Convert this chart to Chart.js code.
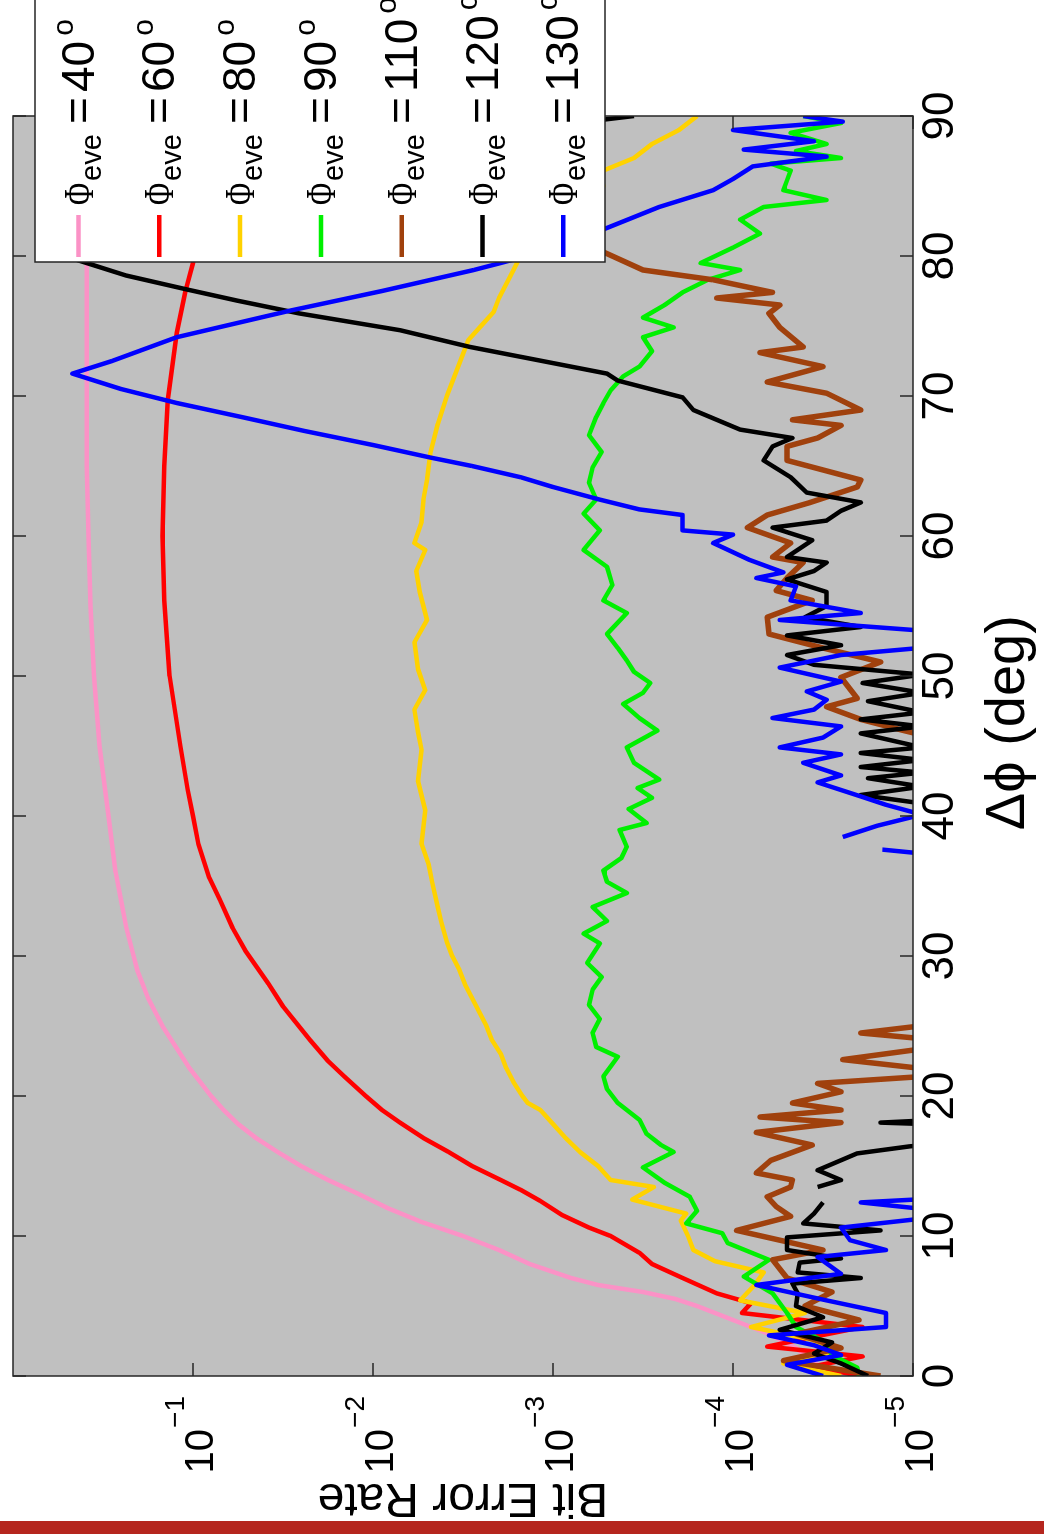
<!DOCTYPE html>
<html lang="en">
<head>
<meta charset="UTF-8">
<title>Bit Error Rate vs phase offset</title>
<script src="https://cdn.jsdelivr.net/npm/chart.js"></script>
<style>
  html, body { margin: 0; padding: 0; background: #fff; }
  body { width: 1044px; height: 1534px; overflow: hidden; position: relative; }
  /* the figure is shown turned a quarter turn counter-clockwise */
  #turn { position: absolute; left: 0; top: 0; width: 1534px; height: 1044px;
          transform-origin: 0 0; transform: translate(0, 1534px) rotate(-90deg); }
  #bar { position: absolute; left: 0; top: 1521px; width: 1044px; height: 13px; background: #b5261e; }
</style>
</head>
<body>
<div id="turn"><canvas id="berChart" width="1534" height="1044"></canvas></div>
<div id="bar"></div>
<script>
// axis ticks
const phiTicks = [0, 10, 20, 30, 40, 50, 60, 70, 80, 90];
const berTickExp = [-1, -2, -3, -4, -5];
const legendAngles = [40, 60, 80, 90, 110, 120, 130];

// delta phi (deg) and log10(BER); null = BER of zero (gap)
const phi40 = [0,1,2,3,4,5,5.5,6,6.5,7,8,9,10,11,12,13,14,15,16,17,18,19,20,21,22,23,24,25,26,27,28,29,30,32,34,36,38,40,45,50,55,60,65,70,75,80,85,90];
const ber40 = [-4.55,-4.45,-4.35,-4.2,-4.0,-3.8,-3.68,-3.5,-3.25,-3.1,-2.87,-2.7,-2.5,-2.27,-2.08,-1.92,-1.75,-1.6,-1.47,-1.35,-1.25,-1.17,-1.1,-1.04,-0.98,-0.93,-0.88,-0.83,-0.79,-0.75,-0.72,-0.69,-0.67,-0.63,-0.6,-0.57,-0.55,-0.53,-0.48,-0.45,-0.43,-0.42,-0.41,-0.41,-0.41,-0.41,-0.41,-0.41];

const phi60 = [0,0.7,1.4,2.1,2.8,3.5,4.5,5.2,5.9,7,8,8.8,10,10.6,11.5,12.5,13.3,14,15,16,17,18.1,19,20,21.4,22.5,24,26.4,28,30.4,32,34,35.6,38,40,41.9,45,50,55.4,60,65,69.7,74.5,77.6,79.5,85,90];
const ber60 = [-4.7,-4.45,-4.72,-4.19,-4.45,-4.72,-4.05,-4.1,-3.91,-3.72,-3.55,-3.48,-3.32,-3.2,-3.05,-2.93,-2.82,-2.71,-2.55,-2.42,-2.28,-2.15,-2.05,-1.96,-1.84,-1.75,-1.65,-1.5,-1.42,-1.29,-1.22,-1.15,-1.09,-1.03,-1.0,-0.97,-0.93,-0.87,-0.84,-0.83,-0.84,-0.86,-0.91,-0.96,-1.0,-1.06,-1.12];

const phi80 = [0,0.9,1.7,2.6,3.5,4.5,5.4,6.5,7.4,8.2,9,10,11.1,11.6,12.6,13.5,14,15,16,17,18,19,19.5,20,21,22,23,24,25,26,27,28,29,30,31,32.4,33.5,35.2,36.5,38,40.4,42.5,44.7,46,47.6,49,50.5,52.4,54,56,57.5,59,59.5,61,62.6,64,66,68,70,72,74,75,76,77,78,79,80,81,82,83,84,85,86,87,88,89,90];
const ber80 = [-4.6,-4.28,-4.55,-4.44,-4.1,-4.4,-4.04,-4.12,-4.17,-3.9,-3.78,-3.75,-3.71,-3.74,-3.44,-3.56,-3.32,-3.25,-3.15,-3.07,-3.0,-2.93,-2.86,-2.83,-2.78,-2.74,-2.71,-2.66,-2.63,-2.59,-2.55,-2.51,-2.48,-2.44,-2.41,-2.38,-2.36,-2.33,-2.31,-2.27,-2.29,-2.25,-2.27,-2.25,-2.23,-2.29,-2.25,-2.23,-2.3,-2.26,-2.24,-2.29,-2.23,-2.27,-2.28,-2.3,-2.32,-2.36,-2.41,-2.47,-2.53,-2.6,-2.67,-2.7,-2.74,-2.78,-2.82,-2.9,-2.97,-3.05,-3.15,-3.28,-3.26,-3.45,-3.55,-3.7,-3.8];

const phi90 = [0,0.6,1.5,2.5,3.5,4.5,5.9,7.1,8.3,9.5,10.2,10.9,11.8,12.8,13.8,14.9,16,16.5,17.3,18.3,19.5,20.5,21.4,22.8,23.5,24.5,25.5,26.5,27.6,28.5,29.5,30.9,31.6,32.5,33.5,34.5,35.3,36.1,37,37.8,39,39.5,40.5,41.3,42,42.6,43.8,44.9,46.1,47,48,48.8,49.5,50.3,51.1,52,53,54.5,55.4,56.5,57.8,59,60.4,61.6,62.6,63.8,64.9,66,67.2,68.5,69.5,70.4,71.4,72.1,73.2,74.2,74.9,75.6,76.5,77.4,78.3,79,79.5,80.6,81.6,82.6,83.5,84,84.7,85.4,86.1,86.6,87,87.5,88,88.8,89.5,90];
const ber90 = [-4.7,-4.69,-4.55,-4.5,-4.35,-4.3,-4.22,-4.06,-4.2,-3.97,-3.94,-3.74,-3.8,-3.76,-3.62,-3.5,-3.67,-3.6,-3.52,-3.48,-3.36,-3.3,-3.28,-3.36,-3.24,-3.22,-3.26,-3.2,-3.22,-3.27,-3.19,-3.26,-3.17,-3.3,-3.22,-3.41,-3.3,-3.28,-3.38,-3.41,-3.37,-3.52,-3.42,-3.55,-3.47,-3.59,-3.45,-3.41,-3.58,-3.48,-3.39,-3.5,-3.54,-3.45,-3.41,-3.36,-3.3,-3.41,-3.28,-3.33,-3.3,-3.17,-3.26,-3.17,-3.24,-3.2,-3.22,-3.27,-3.2,-3.24,-3.28,-3.32,-3.39,-3.48,-3.55,-3.5,-3.67,-3.5,-3.62,-3.72,-3.86,-4.04,-3.82,-4.0,-4.15,-4.04,-4.17,-4.52,-4.28,-4.3,-4.32,-4.21,-4.6,-4.35,-4.52,-4.32,-4.6,-4.39];

const phi110 = [0,1.1,2,3,4,5,6,7,8.3,9,9.7,10.4,11.4,12.1,12.8,13.5,14,14.5,15.4,16.5,17.4,18.1,18.5,19,19.5,20.3,20.9,21.6,22.6,23.8,24.5,25.4,26,45,46.1,46.9,47.8,48.4,49.9,51,52,53,54.2,55.4,56.1,57,58.1,58.5,59.5,60.6,61.5,62.4,63.5,64,65.4,66.4,67,67.9,68.3,69,70.2,71,72.1,73.1,73.5,74.9,75.9,76.5,77,77.4,78.3,79,80.4,82,84,86,88,90];
const ber110 = [-4.82,-4.28,-4.6,-4.35,-4.7,-4.4,-4.55,-4.3,-4.22,-4.5,-4.26,-4.02,-4.32,-4.24,-4.19,-4.32,-4.33,-4.13,-4.21,-4.44,-4.13,-4.6,-4.15,-4.6,-4.33,-4.6,-4.47,-5.3,-4.61,-5.3,-4.71,-5.3,null,-5.3,-4.95,-4.71,-4.52,-4.69,-4.6,-4.82,-4.5,-4.2,-4.19,-4.44,-4.24,-4.3,-4.39,-4.22,-4.32,-4.08,-4.19,-4.43,-4.69,-4.71,-4.3,-4.3,-4.47,-4.6,-4.33,-4.71,-4.52,-4.19,-4.5,-4.15,-4.39,-4.26,-4.2,-4.26,-3.91,-4.22,-3.89,-3.5,-3.26,-3.1,-2.95,-2.8,-2.65,-2.5];

const phi120 = [0,0.9,1.6,2.4,3.3,4.2,5,5.9,6.6,7,7.4,8.1,8.4,9,9.9,10.4,10.9,11.6,12.4,13,13.5,14,14.7,15.9,16.4,16.8,17.5,17.9,18.1,18.4,19,40.3,40.9,41.5,42.1,42.7,43.1,43.5,44,44.5,44.9,45.9,46.4,46.9,47.4,48.2,48.8,49.5,50.1,50.8,51.5,52.2,52.9,53.5,54.2,55,56,56.9,57.5,58.1,58.5,59.7,60.6,61.1,61.8,62.4,63.1,64.2,65.4,66.4,67,67.6,69,69.9,71.1,71.6,72.8,73.5,74.7,75.9,76.8,77.6,78.6,79.7,81,82.5,84,86,88,89,90];
const ber120 = [-4.75,-4.6,-4.45,-4.55,-4.26,-4.5,-4.35,-4.36,-4.33,-4.71,-4.36,-4.37,-4.6,-4.3,-4.3,-4.82,-4.39,-4.45,-4.5,null,-4.47,-4.6,-4.47,-4.69,-4.98,-5.3,null,-5.3,-4.82,-5.3,null,-5.3,-5.05,-4.71,-5.05,-4.75,-5.05,-4.71,-5.05,-4.71,-5.05,-4.71,-5.05,-4.71,-5.05,-4.75,-5.05,-4.72,-5.05,-4.45,-4.3,-4.6,-4.3,-4.71,-4.4,-4.52,-4.52,-4.3,-4.45,-4.52,-4.3,-4.44,-4.22,-4.52,-4.6,-4.71,-4.41,-4.32,-4.17,-4.22,-4.33,-4.04,-3.78,-3.72,-3.36,-3.3,-2.82,-2.54,-2.15,-1.59,-1.25,-0.97,-0.63,-0.36,-0.2,-0.25,-0.6,-1.3,-2.2,-2.8,-3.45];

const phi130 = [0,0.8,1.5,2.2,2.9,3.5,4.5,5.4,6.5,7.3,8.5,9,9.7,10.6,11.6,12.4,12.8,13.2,37,37.6,38,38.5,39.3,40.1,40.8,41.4,42.4,42.9,43.8,44.4,44.9,45.6,46.4,47,47.6,48.3,48.9,49.6,50.6,51.5,52.3,53,54,54.5,55.4,56.4,57,57.4,58.3,59.5,60.1,60.4,61.5,61.9,62.6,63.5,64.2,65,65.6,66.5,67.5,68.5,69.5,70.5,71.6,72.5,74.2,76.1,77.5,79,79.5,80.5,81.9,83.5,84.7,85.5,86.4,87.1,87.6,88.2,89,89.6,90];
const ber130 = [-4.5,-4.3,-4.6,-4.45,-4.2,-4.85,-4.85,-4.52,-4.13,-4.6,-4.47,-4.85,-4.65,-4.6,-5.3,-4.71,-5.3,null,-5.3,-4.83,null,-4.61,-4.8,-5.05,-4.85,-4.71,-4.47,-4.6,-4.39,-4.6,-4.26,-4.5,-4.6,-4.22,-4.45,-4.52,-4.41,-4.6,-4.26,-4.6,-5.3,-5.3,-4.26,-4.71,-4.32,-4.35,-4.13,-4.28,-4.09,-3.89,-4.0,-3.72,-3.72,-3.48,-3.26,-3.0,-2.82,-2.55,-2.32,-2.0,-1.62,-1.27,-0.91,-0.6,-0.33,-0.55,-0.91,-1.54,-2.05,-2.56,-2.71,-3.0,-3.28,-3.59,-3.89,-4.0,-4.11,-4.52,-4.06,-4.45,-4.0,-4.61,-4.39];

const seriesPhi = [phi40, phi60, phi80, phi90, phi110, phi120, phi130];
const seriesBer = [ber40, ber60, ber80, ber90, ber110, ber120, ber130];
const seriesColors = ['#fb92c6', '#ff0000', '#ffd200', '#00f000', '#a0410d', '#000000', '#0000ff'];

const SANS = '"Liberation Sans", Arial, sans-serif';
const SERIF = '"Liberation Serif", "Times New Roman", serif';

function toPoints(phi, ber) {
  return phi.map((p, i) => ({ x: p, y: ber[i] === null ? null : Math.pow(10, ber[i]) }));
}

const datasets = legendAngles.map((a, i) => ({
  label: 'Φeve = ' + a + '°',
  data: toPoints(seriesPhi[i], seriesBer[i]),
  borderColor: seriesColors[i],
  borderWidth: i === 4 ? 5.5 : 4.5,
  pointRadius: 0,
  tension: 0,
  spanGaps: false,
  clip: 0,
  borderJoinStyle: 'round',
  order: 7 - i
}));

const matlabAxes = {
  id: 'matlabAxes',
  beforeDatasetsDraw(chart) {
    const { ctx, chartArea: a } = chart;
    ctx.save();
    ctx.fillStyle = '#c0c0c0';
    ctx.fillRect(a.left, a.top, a.right - a.left, a.bottom - a.top);
    ctx.restore();
  },
  afterDatasetsDraw(chart) {
    const { ctx, chartArea: a, scales: { x, y } } = chart;
    ctx.save();
    ctx.strokeStyle = '#262626';
    ctx.lineWidth = 1.5;
    ctx.strokeRect(a.left, a.top, a.right - a.left, a.bottom - a.top);
    ctx.beginPath();
    phiTicks.forEach(t => {
      const px = x.getPixelForValue(t);
      ctx.moveTo(px, a.bottom); ctx.lineTo(px, a.bottom - 13);
      ctx.moveTo(px, a.top); ctx.lineTo(px, a.top + 13);
    });
    berTickExp.forEach(e => {
      const py = y.getPixelForValue(Math.pow(10, e));
      ctx.moveTo(a.left, py); ctx.lineTo(a.left + 13, py);
      ctx.moveTo(a.right, py); ctx.lineTo(a.right - 13, py);
    });
    ctx.stroke();

    // log tick labels as 10 with a raised exponent
    ctx.fillStyle = '#000';
    ctx.textBaseline = 'alphabetic';
    ctx.textAlign = 'left';
    berTickExp.forEach(e => {
      const py = y.getPixelForValue(Math.pow(10, e));
      const sup = '\u2212' + Math.abs(e);
      ctx.font = '40px ' + SANS;
      const wBase = ctx.measureText('10').width;
      ctx.font = '28px ' + SANS;
      const wSup = ctx.measureText(sup).width;
      const x0 = a.left - 21 - wBase - wSup;
      ctx.font = '40px ' + SANS;
      ctx.fillText('10', x0, py + 20);
      ctx.font = '28px ' + SANS;
      ctx.fillText(sup, x0 + wBase + 1, py - 9);
    });
    ctx.restore();
  },
  afterDraw(chart) {
    const ctx = chart.ctx;
    ctx.save();
    ctx.fillStyle = '#fff';
    ctx.fillRect(1272, 35, 300, 570);
    ctx.strokeStyle = '#262626';
    ctx.lineWidth = 1.5;
    ctx.strokeRect(1272, 35, 300, 570);
    ctx.textBaseline = 'alphabetic';
    ctx.textAlign = 'left';
    legendAngles.forEach((ang, i) => {
      const vc = 78.5 + 80.8 * i;
      ctx.strokeStyle = seriesColors[i];
      ctx.lineWidth = 4.5;
      ctx.beginPath();
      ctx.moveTo(1277, vc); ctx.lineTo(1319, vc);
      ctx.stroke();
      ctx.fillStyle = '#000';
      // narrow serif capital phi
      ctx.save();
      ctx.translate(1329, vc + 14);
      ctx.scale(0.72, 1);
      ctx.font = '42px ' + SERIF;
      ctx.fillText('Φ', 0, 0);
      ctx.restore();
      ctx.font = '29px ' + SANS;
      ctx.fillText('eve', 1353, vc + 22);
      ctx.font = '46px ' + SANS;
      ctx.fillText('=', 1410, vc + 15);
      const num = String(ang);
      ctx.fillText(num, 1442, vc + 15);
      const w = ctx.measureText(num).width;
      ctx.font = '30px ' + SANS;
      ctx.fillText('o', 1442 + w + 5, vc - 6);
    });
    ctx.restore();
  }
};

new Chart(document.getElementById('berChart'), {
  type: 'line',
  data: { datasets },
  options: {
    responsive: false,
    animation: false,
    devicePixelRatio: 1,
    layout: { padding: { top: 13, right: 116, bottom: 0, left: 0 } },
    plugins: { legend: { display: false }, tooltip: { enabled: false } },
    scales: {
      x: {
        type: 'linear', min: 0, max: 90,
        grid: { display: false, drawTicks: false },
        border: { display: false },
        ticks: { stepSize: 10, autoSkip: false, maxRotation: 0, color: '#000', padding: 6,
                 font: { family: SANS, size: 44, lineHeight: 1 } },
        title: { display: true, text: '   Δϕ (deg)', color: '#000', padding: { bottom: 7 },
                 font: { family: SANS, size: 56, lineHeight: 1 } },
        afterFit(scale) { scale.height = 131; }
      },
      y: {
        type: 'logarithmic', min: 1e-5, max: 1,
        grid: { display: false, drawTicks: false },
        border: { display: false },
        ticks: { display: false },
        title: { display: true, text: 'Bit Error Rate', color: '#000', padding: { top: 13 },
                 font: { family: SANS, size: 48, lineHeight: 1 } },
        afterFit(scale) { scale.width = 158; }
      }
    }
  },
  plugins: [matlabAxes]
});
</script>
</body>
</html>
